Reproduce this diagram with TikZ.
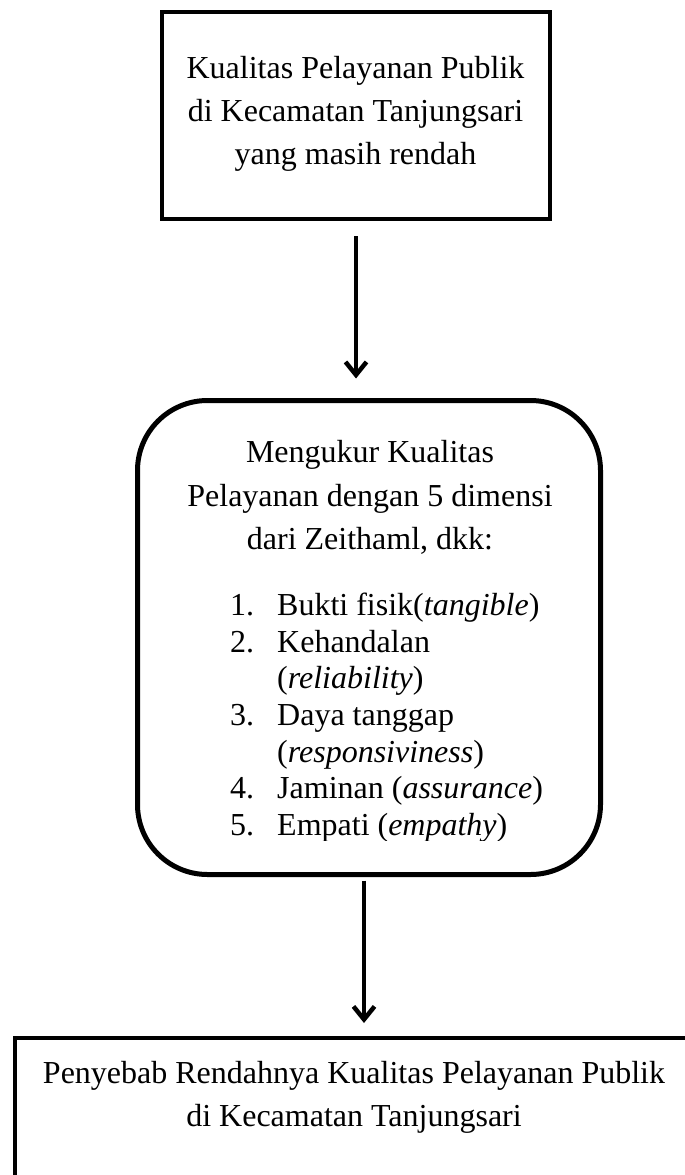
\documentclass[tikz,border=0pt]{standalone}
\usepackage{fontspec}
\setmainfont{Liberation Serif}
\usetikzlibrary{arrows.meta}
\begin{document}
\begin{tikzpicture}[x=1pt,y=-1pt,
  txt/.style={inner sep=0pt, anchor=base, font=\fontsize{32}{38}\selectfont},
  ltxt/.style={txt, anchor=base west},
  sqbox/.style={draw, line width=4.5pt, outer sep=0pt, inner sep=0pt},
  rbox/.style={draw, line width=5pt, outer sep=0pt, inner sep=0pt, rounded corners=70pt},
  arr/.style={line width=4.5pt, -{Straight Barb[length=13pt,width=21pt]}}
]
\useasboundingbox (0,0) rectangle (685,1175);
\clip (0,0) rectangle (685,1175);
\fill[white] (0,0) rectangle (685,1175);

% boxes
\node[sqbox, minimum width=388pt, minimum height=207pt] (top) at (356,115.5) {};
\node[rbox, minimum width=463pt, minimum height=474pt] (mid) at (369,637.5) {};
\node[sqbox, minimum width=700pt, minimum height=200pt, anchor=north west] (bot) at (15,1038) {};

% top text
\node[txt] (t1) at (355.5,78) {Kualitas Pelayanan Publik};
\node[txt] (t2) at (355.5,121) {di Kecamatan Tanjungsari};
\node[txt] (t3) at (355.5,164) {yang masih rendah};

% middle text
\node[txt] (m1) at (370,462) {Mengukur Kualitas};
\node[txt] (m2) at (370,506) {Pelayanan dengan 5 dimensi};
\node[txt] (m3) at (370,549) {dari Zeithaml, dkk:};

\node[ltxt] (n1) at (230,615) {1.};
\node[ltxt] (i1) at (277,615) {Bukti fisik(\textit{tangible})};
\node[ltxt] (n2) at (230,652) {2.};
\node[ltxt] (i2) at (277,652) {Kehandalan};
\node[ltxt] (i2b) at (277,688.5) {(\textit{reliability})};
\node[ltxt] (n3) at (230,725) {3.};
\node[ltxt] (i3) at (277,725) {Daya tanggap};
\node[ltxt] (i3b) at (277,762) {(\textit{responsiviness})};
\node[ltxt] (n4) at (230,798.5) {4.};
\node[ltxt] (i4) at (277,798.5) {Jaminan (\textit{assurance})};
\begin{scope}
  \clip (200,800) rectangle (600,840);
  \node[ltxt] (n5) at (230,835) {5.};
  \node[ltxt] (i5) at (277,835) {Empati (\textit{empathy})};
\end{scope}

% bottom text
\node[txt] (b1) at (354,1083) {Penyebab Rendahnya Kualitas Pelayanan Publik};
\node[txt] (b2) at (354,1126) {di Kecamatan Tanjungsari};

% arrows
\draw[arr, shorten <=17pt, shorten >=22pt] (top.south) -- (top.south |- mid.north);
\draw[arr, shorten <=6pt, shorten >=15pt] ([xshift=-1pt]bot.north |- mid.south) -- ([xshift=-1pt]bot.north);
\end{tikzpicture}
\end{document}
